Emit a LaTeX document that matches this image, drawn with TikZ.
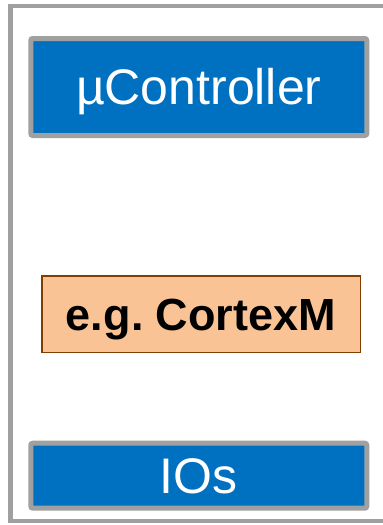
\documentclass[tikz,border=0pt]{standalone}
\usepackage{fontspec}
\setmainfont{Liberation Sans}
\definecolor{unitblue}{HTML}{0070C0}
\definecolor{framegray}{HTML}{A0A0A0}
\definecolor{corefill}{HTML}{FAC396}
\definecolor{coreline}{HTML}{7F3F00}
\begin{document}
\begin{tikzpicture}[x=1pt,y=-1pt,
  unit/.style={draw=framegray,line width=5pt,fill=unitblue,text=white,
    rounded corners=2pt,minimum width=336pt,inner sep=0pt,
    text height=35.8pt,text depth=0pt,font=\fontsize{50}{60}\selectfont},
  core/.style={draw=coreline,line width=1.5pt,fill=corefill,
    minimum width=318.5pt,minimum height=76.5pt,inner sep=0pt,
    text height=32.2pt,text depth=0pt,font=\fontsize{45}{54}\selectfont\bfseries}]
\useasboundingbox (0,0) rectangle (383,525);
\draw[framegray,line width=4.5pt] (400,5.8) -- (10.5,5.8) -- (10.5,521) -- (400,521);
\node[unit,minimum height=97pt] (mcu) at (198.8,87) {µController};
\node[core] (cortex) at (201,314) {e.g.\ CortexM};
\node[unit,minimum height=65pt] (io) at (198.8,475.7) {IOs};
\end{tikzpicture}
\end{document}
